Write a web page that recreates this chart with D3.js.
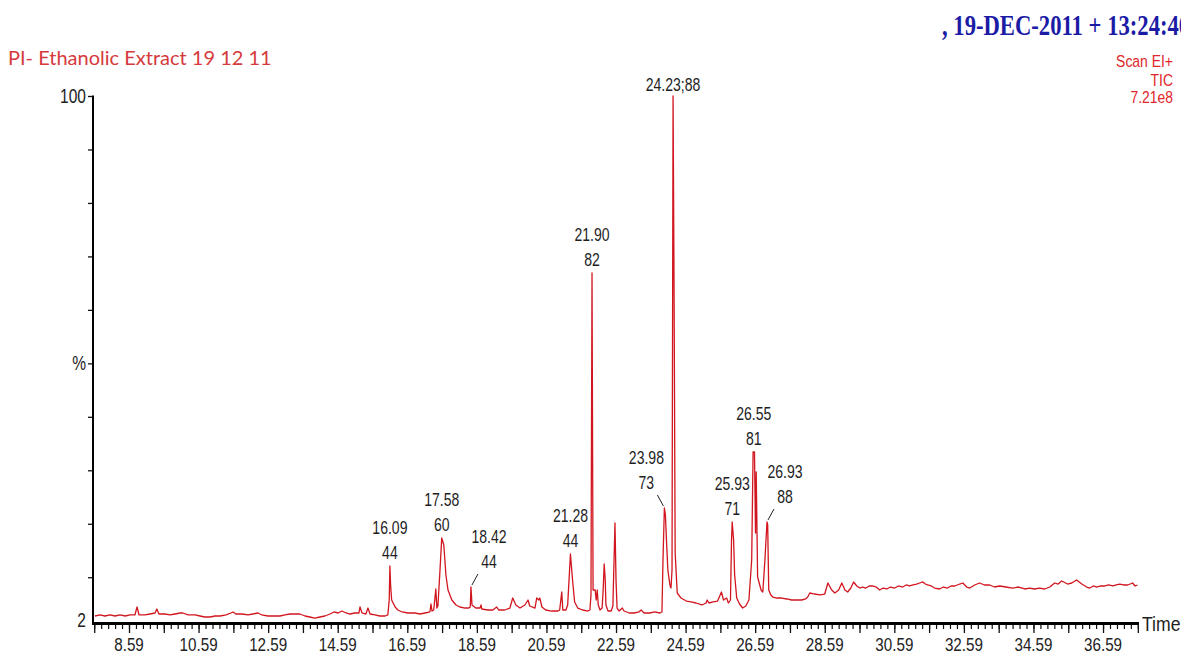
<!DOCTYPE html>
<html><head><meta charset="utf-8">
<script src="https://cdn.jsdelivr.net/npm/d3@7"></script>
<style>html,body{margin:0;padding:0;background:#fff;overflow:hidden}</style>
</head><body>
<svg id="c" width="1181" height="655"></svg>
<script>
// ---- data ----
const retentionTimes = [7.61,7.76,7.90,8.04,8.19,8.33,8.48,8.62,8.76,8.82,8.88,9.05,9.19,9.34,9.39,9.45,9.62,9.77,9.91,10.06,10.14,10.29,10.49,10.63,10.77,10.92,11.06,11.21,11.38,11.52,11.58,11.66,11.84,12.01,12.15,12.30,12.41,12.58,12.79,12.93,13.07,13.22,13.36,13.50,13.65,13.79,13.93,14.08,14.22,14.37,14.48,14.60,14.71,14.83,14.94,15.08,15.20,15.23,15.29,15.40,15.46,15.52,15.66,15.80,15.95,16.03,16.07,16.09,16.11,16.14,16.24,16.32,16.44,16.61,16.81,16.95,17.10,17.24,17.27,17.30,17.35,17.41,17.44,17.47,17.53,17.58,17.64,17.70,17.76,17.87,17.99,18.10,18.25,18.36,18.40,18.42,18.45,18.56,18.68,18.71,18.73,18.91,19.05,19.16,19.22,19.39,19.54,19.62,19.71,19.83,19.97,20.06,20.11,20.26,20.31,20.37,20.40,20.46,20.57,20.74,20.92,20.97,21.03,21.06,21.15,21.20,21.28,21.34,21.40,21.49,21.63,21.78,21.84,21.87,21.90,21.93,21.99,22.02,22.05,22.08,22.13,22.19,22.22,22.25,22.28,22.30,22.36,22.45,22.50,22.56,22.59,22.62,22.68,22.77,22.82,22.97,23.11,23.25,23.31,23.40,23.56,23.70,23.85,23.91,23.94,23.98,24.01,24.04,24.08,24.14,24.17,24.20,24.23,24.26,24.29,24.35,24.46,24.61,24.75,24.89,25.06,25.18,25.21,25.26,25.38,25.51,25.62,25.68,25.77,25.82,25.88,25.91,25.93,25.97,26.00,26.06,26.14,26.23,26.32,26.41,26.49,26.53,26.57,26.60,26.62,26.66,26.76,26.81,26.87,26.93,26.95,26.98,27.04,27.10,27.21,27.35,27.50,27.64,27.78,27.93,28.04,28.10,28.16,28.30,28.45,28.59,28.68,28.79,28.88,28.99,29.08,29.17,29.25,29.34,29.42,29.51,29.60,29.68,29.77,29.87,29.97,30.07,30.17,30.27,30.37,30.48,30.60,30.71,30.83,30.93,31.03,31.13,31.23,31.32,31.41,31.48,31.55,31.65,31.75,31.89,32.00,32.12,32.22,32.33,32.47,32.56,32.67,32.76,32.90,33.04,33.18,33.33,33.47,33.62,33.80,33.99,34.16,34.34,34.48,34.62,34.76,34.91,35.06,35.20,35.30,35.40,35.57,35.69,35.83,35.98,36.12,36.21,36.31,36.41,36.52,36.64,36.75,36.87,36.97,37.07,37.18,37.30,37.44,37.51,37.58];
const abundance = [2.75,2.94,2.75,2.94,2.75,2.94,2.75,2.94,2.94,4.43,2.94,2.94,3.12,3.31,4.06,3.12,3.12,2.94,3.12,3.31,3.31,2.94,2.94,2.75,2.56,2.56,2.75,2.75,2.94,3.31,3.50,3.12,3.12,2.94,3.12,3.31,2.94,2.75,2.75,2.75,2.94,3.12,3.12,3.12,2.75,2.56,2.37,2.56,2.75,3.12,3.50,3.31,3.68,3.31,3.12,3.31,3.31,4.43,3.31,3.12,4.24,3.12,2.94,2.75,2.75,2.94,5.74,12.10,8.55,5.74,4.43,3.87,3.50,3.31,3.31,3.12,3.31,3.50,4.99,3.68,3.87,7.80,4.24,4.62,11.35,17.34,16.03,10.42,7.61,5.74,4.81,4.43,4.24,4.24,4.43,8.17,4.81,4.24,4.24,4.81,4.06,3.87,3.87,4.43,3.87,3.87,4.24,6.11,4.81,4.24,4.81,5.74,4.62,4.24,6.11,5.74,6.11,4.43,3.87,3.68,3.68,3.87,7.24,3.87,3.87,4.81,14.34,9.48,5.37,4.24,3.87,3.68,3.87,6.68,66.90,7.61,7.61,5.74,7.61,4.81,3.87,4.24,7.61,12.47,9.48,4.81,3.68,3.68,4.62,20.14,9.48,4.24,3.68,4.24,3.68,3.31,3.31,3.50,3.87,3.31,3.31,3.50,3.31,3.50,13.22,22.95,21.64,16.96,11.35,8.55,7.98,11.35,100,61.85,14.53,7.05,6.11,5.55,5.37,5.18,4.81,5.18,5.74,5.18,5.37,5.55,7.24,5.74,6.11,5.18,5.74,16.96,20.33,16.96,10.42,6.11,4.99,4.24,4.62,5.74,13.22,33.42,33.42,18.27,29.68,10.04,7.61,7.24,13.22,20.33,19.77,7.61,6.68,6.30,6.11,6.11,5.93,5.74,5.74,5.74,5.93,6.30,7.05,6.86,6.68,6.86,8.92,7.61,7.05,7.61,8.92,7.61,7.24,7.98,9.11,8.36,7.98,8.17,7.98,8.36,8.36,8.17,7.61,7.98,7.80,8.17,7.98,8.36,8.17,8.55,8.36,8.55,8.73,8.92,9.11,8.73,8.55,8.36,7.98,7.80,8.17,7.98,8.36,8.36,8.73,8.92,8.17,7.98,8.55,8.92,8.55,8.55,8.17,8.36,8.17,7.98,8.17,7.80,7.98,7.80,7.98,7.80,8.17,8.92,8.73,9.29,8.73,8.92,9.48,8.73,8.17,7.98,8.36,8.17,8.36,8.36,8.55,8.36,8.55,8.73,8.55,8.55,8.92,8.36,8.55];

const peakTimes   = [16.09, 17.58, 18.42, 21.28, 21.90, 23.98, 24.23, 25.93, 26.55, 26.93];
const peakHeights = [12.10, 17.34, 8.17, 14.34, 66.90, 22.95, 100, 20.33, 33.42, 20.33];
const peakCodes   = ["44", "60", "44", "44", "82", "73", "88", "71", "81", "88"];

const xTickLabels = ["8.59","10.59","12.59","14.59","16.59","18.59","20.59","22.59","24.59","26.59","28.59","30.59","32.59","34.59","36.59"];
const yTickLabels = ["100", "%", "2"];
const yLabelValues = [100, 50, 2];
const xDomain = [7.555, 37.595];
const yDomain = [2, 100];

const titleText = "PI- Ethanolic Extract 19 12 11";
const dateText = ", 19-DEC-2011 + 13:24:40";
const infoLines = ["Scan EI+", "TIC", "7.21e8"];

// ---- layout ----
const svg = d3.select("#c");
const x = d3.scaleLinear().domain(xDomain).range([93, 1138]);
const y = d3.scaleLinear().domain(yDomain).range([620, 96]);
const SANS = "'Liberation Sans', Arial, sans-serif";

function txt(g, str, px, py, opts) {
  const o = Object.assign({size: 18, sx: 0.78, anchor: "middle", fill: "#1e1e1e", family: SANS, weight: "normal"}, opts || {});
  return g.append("text")
    .attr("transform", `translate(${px},${py}) scale(${o.sx},1)`)
    .attr("text-anchor", o.anchor)
    .attr("font-family", o.family)
    .attr("font-size", o.size)
    .attr("font-weight", o.weight)
    .attr("fill", o.fill)
    .text(str);
}

// header texts
svg.append("text").attr("x", 8).attr("y", 65)
  .attr("font-family", "Lato, 'Open Sans', sans-serif").attr("font-size", 20)
  .attr("fill", "#d63a3c").text(titleText);
txt(svg, dateText, 942, 35, {size: 30, sx: 0.755, anchor: "start", fill: "#1b1ba6",
  family: "'Liberation Serif', 'Times New Roman', serif", weight: "bold"});
const infoY = [67, 86, 103];
infoLines.forEach((s, i) => txt(svg, s, 1173, infoY[i], {size: 17, sx: 0.82, anchor: "end", fill: "#e0262a"}));

// x axis: minor, major ticks and labels
const minorTicks = d3.range(0, 151).map(i => 7.59 + i * 0.2).filter(v => v <= xDomain[1]);
const majorTicks = d3.range(0, 31).map(i => 7.59 + i).filter(v => v <= xDomain[1]);
const xAxisY = 624;
svg.append("g").attr("transform", `translate(0,${xAxisY})`)
  .call(d3.axisBottom(x).tickValues(minorTicks).tickSize(5).tickFormat(""))
  .call(g => g.select(".domain").remove())
  .call(g => g.selectAll("line").attr("stroke", "#111").attr("stroke-width", 1.2));
svg.append("g").attr("transform", `translate(0,${xAxisY})`)
  .call(d3.axisBottom(x).tickValues(majorTicks).tickSize(9).tickFormat(""))
  .call(g => g.select(".domain").remove())
  .call(g => g.selectAll("line").attr("stroke", "#111").attr("stroke-width", 1.3));
const lab = svg.append("g");
xTickLabels.forEach(s => txt(lab, s, x(+s), 651, {size: 19, sx: 0.8, fill: "#222"}));
svg.append("line").attr("x1", 92).attr("x2", 1139).attr("y1", xAxisY - 0.5).attr("y2", xAxisY - 0.5)
  .attr("stroke", "#000").attr("stroke-width", 3.2);
txt(svg, "Time", 1142, 631, {size: 20, sx: 0.88, anchor: "start", fill: "#222"});

// y axis
svg.append("g").attr("transform", "translate(93,0)")
  .call(d3.axisLeft(y).tickValues(d3.range(10, 101, 10)).tickSize(5).tickFormat(""))
  .call(g => g.select(".domain").remove())
  .call(g => g.selectAll("line").attr("stroke", "#111").attr("stroke-width", 1.3));
svg.append("line").attr("x1", 93).attr("x2", 93).attr("y1", y(100) - 0.5).attr("y2", xAxisY)
  .attr("stroke", "#000").attr("stroke-width", 2);
yTickLabels.forEach((s, i) => txt(svg, s, 86, y(yLabelValues[i]) + 7, {size: 21, sx: 0.74, anchor: "end", fill: "#222"}));

// chromatogram trace
const pts = retentionTimes.map((t, i) => [t, abundance[i]]);
svg.append("path").datum(pts)
  .attr("d", d3.line().x(d => x(d[0])).y(d => y(d[1])))
  .attr("fill", "none").attr("stroke", "#d2161f").attr("stroke-width", 1.3)
  .attr("stroke-linejoin", "round");

// peak annotations
const leaderDir = {"18.42": 1, "23.98": -1, "26.93": 1};
const ann = svg.append("g");
peakTimes.forEach((t, i) => {
  const key = t.toFixed(2);
  const px = x(t), py = y(peakHeights[i]);
  const dir = leaderDir[key] || 0;
  const lx = px + dir * 18;
  const codeY = dir ? py - 19 : py - 7;
  if (peakHeights[i] === 100) {
    txt(ann, key + ";" + peakCodes[i], px, py - 5);
    return;
  }
  txt(ann, key, lx, codeY - 25);
  txt(ann, peakCodes[i], lx, codeY);
  if (dir) {
    ann.append("line").attr("x1", lx - dir * 11).attr("y1", codeY + 6)
      .attr("x2", px + dir * 1).attr("y2", py - 2)
      .attr("stroke", "#222").attr("stroke-width", 1);
  }
});
</script>
</body></html>
